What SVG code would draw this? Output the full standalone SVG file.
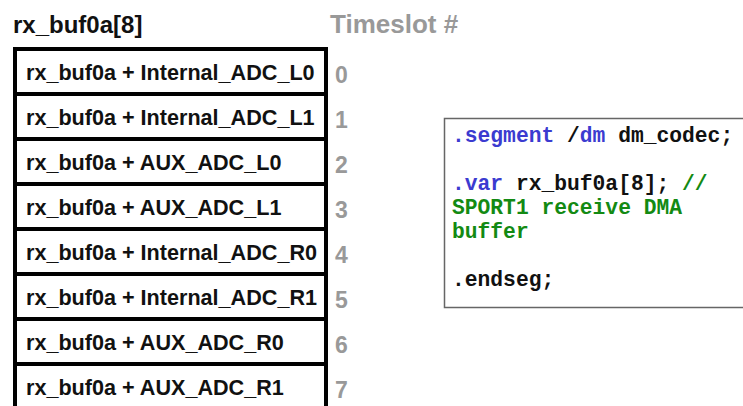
<svg xmlns="http://www.w3.org/2000/svg" width="743" height="406" viewBox="0 0 743 406">
<style>
.row rect{fill:#fff;stroke:#000;stroke-width:4}
.lbl{font-family:"Liberation Sans",Arial,sans-serif;font-weight:bold;font-size:21.6px;fill:#111}
.num{font-family:"Liberation Sans",Arial,sans-serif;font-weight:bold;font-size:23px;fill:#999}
.hdr{font-family:"Liberation Sans",Arial,sans-serif;font-weight:bold;font-size:24px}
.code{font-family:"Liberation Mono","Courier New",monospace;font-weight:bold;font-size:21.3px;fill:#111}
.kw{fill:#3b3bd0}
.cm{fill:#138a13}
</style>
<rect width="743" height="406" fill="#fff"/>
<g id="headers">
<text class="hdr" x="13" y="33" fill="#111">rx_buf0a[8]</text>
<text class="hdr" x="330" y="33" fill="#999" style="font-size:26px">Timeslot #</text>
</g>
<g id="row0" class="row"><rect x="15" y="49" width="311" height="45"/><text class="lbl" x="26" y="80">rx_buf0a + Internal_ADC_L0</text><text class="num" x="335" y="83">0</text></g>
<g id="row1" class="row"><rect x="15" y="94" width="311" height="45"/><text class="lbl" x="26" y="125">rx_buf0a + Internal_ADC_L1</text><text class="num" x="335" y="128">1</text></g>
<g id="row2" class="row"><rect x="15" y="139" width="311" height="45"/><text class="lbl" x="26" y="170">rx_buf0a + AUX_ADC_L0</text><text class="num" x="335" y="173">2</text></g>
<g id="row3" class="row"><rect x="15" y="184" width="311" height="45"/><text class="lbl" x="26" y="215">rx_buf0a + AUX_ADC_L1</text><text class="num" x="335" y="218">3</text></g>
<g id="row4" class="row"><rect x="15" y="229" width="311" height="45"/><text class="lbl" x="26" y="260">rx_buf0a + Internal_ADC_R0</text><text class="num" x="335" y="263">4</text></g>
<g id="row5" class="row"><rect x="15" y="274" width="311" height="45"/><text class="lbl" x="26" y="305">rx_buf0a + Internal_ADC_R1</text><text class="num" x="335" y="308">5</text></g>
<g id="row6" class="row"><rect x="15" y="319" width="311" height="45"/><text class="lbl" x="26" y="350">rx_buf0a + AUX_ADC_R0</text><text class="num" x="335" y="353">6</text></g>
<g id="row7" class="row"><rect x="15" y="364" width="311" height="50"/><text class="lbl" x="26" y="395">rx_buf0a + AUX_ADC_R1</text><text class="num" x="335" y="398">7</text></g>
<g id="code">
<rect x="444.5" y="118.5" width="310" height="189" fill="#fff" stroke="#666" stroke-width="1.5"/>
<text class="code" x="452" y="142"><tspan class="kw">.segment</tspan> /<tspan class="kw">dm</tspan> dm_codec;</text>
<text class="code" x="452" y="190"><tspan class="kw">.var</tspan> rx_buf0a[8]; <tspan class="cm">//</tspan></text>
<text class="code cm" x="452" y="214">SPORT1 receive DMA</text>
<text class="code cm" x="452" y="238">buffer</text>
<text class="code" x="452" y="286">.endseg;</text>
</g>
<g id="connectors"/>
</svg>
